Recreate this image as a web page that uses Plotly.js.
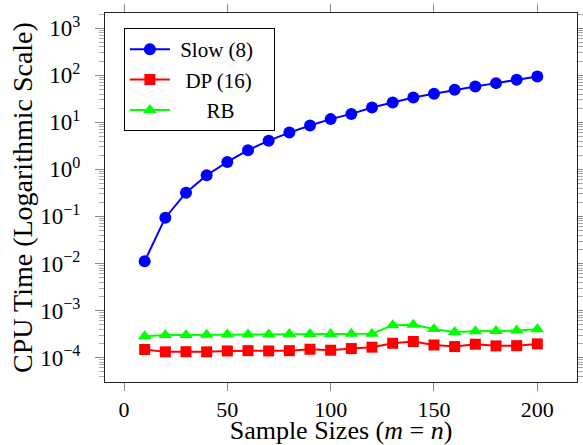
<!DOCTYPE html>
<html>
<head>
<meta charset="utf-8">
<script src="https://cdn.plot.ly/plotly-3.0.1.min.js"></script>
<style>html,body{margin:0;padding:0;background:#fff;}#chart{width:583px;height:445px;}</style>
</head>
<body>
<div id="chart"></div>
<script>
const sampleSizes = [10,20,30,40,50,60,70,80,90,100,110,120,130,140,150,160,170,180,190,200];
const slowTimes = [0.0112,0.094,0.319,0.75,1.44,2.55,4.07,6.05,8.53,11.7,15.1,20.6,26.3,33.6,40.3,49.1,57.6,68.1,80.1,94.2];
const dpTimes = [1.48e-4,1.32e-4,1.33e-4,1.32e-4,1.38e-4,1.40e-4,1.38e-4,1.40e-4,1.50e-4,1.43e-4,1.55e-4,1.66e-4,2.01e-4,2.19e-4,1.85e-4,1.71e-4,1.92e-4,1.77e-4,1.79e-4,1.95e-4];
const rbTimes = [2.84e-4,3.03e-4,3.03e-4,3.05e-4,3.07e-4,3.07e-4,3.10e-4,3.15e-4,3.15e-4,3.15e-4,3.20e-4,3.20e-4,4.87e-4,4.95e-4,4.06e-4,3.50e-4,3.60e-4,3.65e-4,3.75e-4,4.00e-4];
const seriesNames = ['\u00a0Slow (8)\u00a0\u00a0\u00a0', '\u00a0\u00a0DP (16)', '\u00a0\u00a0\u00a0\u00a0\u00a0\u00a0RB'];
const xTickVals = [0,50,100,150,200];
const yExponents = [-4,-3,-2,-1,0,1,2,3];

const yTickVals = yExponents.map(e => Math.pow(10, e));
const yTickText = yExponents.map(e => '10<sup>' + String(e).replace('-', '\u2212') + '</sup>');
const yMinorVals = [];
for (let e = -5; e <= 3; e++) { for (let m = 2; m <= 9; m++) yMinorVals.push(m * Math.pow(10, e)); }

const FONT = 'Liberation Serif';
const traces = [
  {x: sampleSizes, y: slowTimes, name: seriesNames[0], type: 'scatter', mode: 'lines+markers',
   line: {color: '#0000ff', width: 2}, marker: {symbol: 'circle', size: 12, color: '#0000ff'}},
  {x: sampleSizes, y: dpTimes, name: seriesNames[1], type: 'scatter', mode: 'lines+markers',
   line: {color: '#ff0000', width: 2}, marker: {symbol: 'square', size: 11, color: '#ff0000'}},
  {x: sampleSizes, y: rbTimes, name: seriesNames[2], type: 'scatter', mode: 'lines+markers',
   line: {color: '#00ff00', width: 2}, marker: {symbol: 'triangle-up', size: 12, color: '#00ff00'}}
];

const layout = {
  width: 583, height: 445,
  margin: {l: 105, r: 6, t: 13, b: 63, pad: 0},
  paper_bgcolor: '#fff', plot_bgcolor: '#fff',
  font: {family: FONT, size: 22, color: '#000'},
  showlegend: true,
  legend: {x: 0.04, y: 0.959, xanchor: 'left', yanchor: 'top',
    bgcolor: '#fff', bordercolor: '#000', borderwidth: 1,
    font: {family: FONT, size: 21, color: '#000'}, itemwidth: 40},
  xaxis: {
    range: [-9.2, 219.2], tickvals: xTickVals, ticktext: xTickVals.map(String),
    ticks: 'outside', ticklen: 8, tickcolor: '#888', tickwidth: 1,
    showline: true, linecolor: '#222', linewidth: 1, mirror: 'allticks',
    showgrid: false, zeroline: false, automargin: false,
    tickfont: {family: FONT, size: 22, color: '#000'},
    title: {text: 'Sample Sizes (<i>m</i> = <i>n</i>)', font: {family: FONT, size: 26, color: '#000'}}
  },
  yaxis: {
    type: 'log', range: [-4.52, 3.324], tickvals: yTickVals, ticktext: yTickText,
    ticks: 'outside', ticklen: 9, tickcolor: '#888', tickwidth: 1, ticklabelstandoff: 10,
    minor: {tickvals: yMinorVals, ticks: 'outside', ticklen: 5, tickcolor: '#aaa', tickwidth: 1, showgrid: false},
    showline: true, linecolor: '#222', linewidth: 1, mirror: 'allticks',
    showgrid: false, zeroline: false, automargin: false,
    tickfont: {family: FONT, size: 23, color: '#000'},
    title: {text: 'CPU Time (Logarithmic Scale)', font: {family: FONT, size: 28, color: '#000'}}
  }
};

Plotly.newPlot('chart', traces, layout, {displayModeBar: false, staticPlot: true});
</script>
</body>
</html>
